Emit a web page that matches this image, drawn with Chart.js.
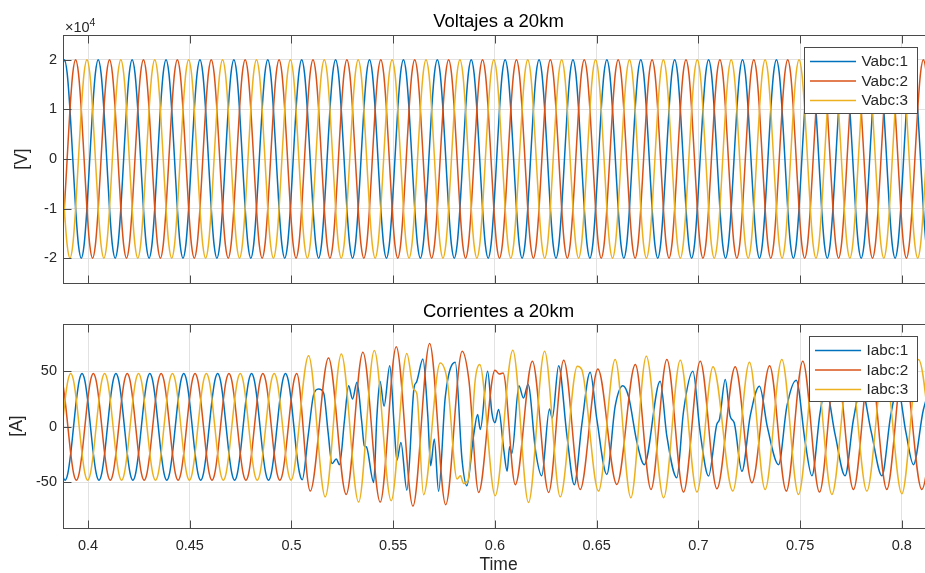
<!DOCTYPE html>
<html>
<head>
<meta charset="utf-8">
<script src="https://cdn.jsdelivr.net/npm/chart.js@4.4.1/dist/chart.umd.min.js"></script>
<style>
  html, body { margin: 0; padding: 0; background: #fff; overflow: hidden; }
  #wrap { position: relative; width: 925px; height: 573px; overflow: hidden; }
  canvas { position: absolute; left: 0; }
  #cv-top { top: 0; }
  #cv-bot { top: 300px; }
</style>
</head>
<body>
<div id="wrap">
  <canvas id="cv-top" width="940" height="300"></canvas>
  <canvas id="cv-bot" width="940" height="273"></canvas>
</div>
<script>
// ---- line colours (matlab default order) ----
const COLORS = ['#0072BD', '#D95319', '#EDB120'];
const FONT = "'Liberation Sans', Arial, Helvetica, sans-serif";
const INK = '#262626';
const GRID = '#e2e2e2';
const TICK_LEN = 8;

// ---- axes ----
const X_MIN = 0.3877, X_MAX = 0.8158;
const X_TICKS = [0.4, 0.45, 0.5, 0.55, 0.6, 0.65, 0.7, 0.75, 0.8];
const V_TICKS = [-20000, -10000, 0, 10000, 20000];
const I_TICKS = [-50, 0, 50];

// ---- voltages [V], one sample every 30 deg of the 60 Hz wave ----
const V_T0 = 0.38696, V_DT = 1 / 720;
const vabc1 = [17321,
  20000, 17321, 10000, 0, -10000, -17321, -20000, -17321, -10000, 0, 10000, 17321,
  20000, 17321, 10000, 0, -10000, -17321, -20000, -17321, -10000, 0, 10000, 17321,
  20000, 17321, 10000, 0, -10000, -17321, -20000, -17321, -10000, 0, 10000, 17321,
  20000, 17321, 10000, 0, -10000, -17321, -20000, -17321, -10000, 0, 10000, 17321,
  20000, 17321, 10000, 0, -10000, -17321, -20000, -17321, -10000, 0, 10000, 17321,
  20000, 17321, 10000, 0, -10000, -17321, -20000, -17321, -10000, 0, 10000, 17321,
  20000, 17321, 10000, 0, -10000, -17321, -20000, -17321, -10000, 0, 10000, 17321,
  20000, 17321, 10000, 0, -10000, -17321, -20000, -17321, -10000, 0, 10000, 17321,
  20000, 17321, 10000, 0, -10000, -17321, -20000, -17321, -10000, 0, 10000, 17321,
  20000, 17321, 10000, 0, -10000, -17321, -20000, -17321, -10000, 0, 10000, 17321,
  20000, 17321, 10000, 0, -10000, -17321, -20000, -17321, -10000, 0, 10000, 17321,
  20000, 17321, 10000, 0, -10000, -17321, -20000, -17321, -10000, 0, 10000, 17321,
  20000, 17321, 10000, 0, -10000, -17321, -20000, -17321, -10000, 0, 10000, 17321,
  20000, 17321, 10000, 0, -10000, -17321, -20000, -17321, -10000, 0, 10000, 17321,
  20000, 17321, 10000, 0, -10000, -17321, -20000, -17321, -10000, 0, 10000, 17321,
  20000, 17321, 10000, 0, -10000, -17321, -20000, -17321, -10000, 0, 10000, 17321,
  20000, 17321, 10000, 0, -10000, -17321, -20000, -17321, -10000, 0, 10000, 17321,
  20000, 17321, 10000, 0, -10000, -17321, -20000, -17321, -10000, 0, 10000, 17321,
  20000, 17321, 10000, 0, -10000, -17321, -20000, -17321, -10000, 0, 10000, 17321,
  20000, 17321, 10000, 0, -10000, -17321, -20000, -17321, -10000, 0, 10000, 17321,
  20000, 17321, 10000, 0, -10000, -17321, -20000, -17321, -10000, 0, 10000, 17321,
  20000, 17321, 10000, 0, -10000, -17321, -20000, -17321, -10000, 0, 10000, 17321,
  20000, 17321, 10000, 0, -10000, -17321, -20000, -17321, -10000, 0, 10000, 17321,
  20000, 17321, 10000, 0, -10000, -17321, -20000, -17321, -10000, 0, 10000, 17321,
  20000, 17321, 10000, 0, -10000, -17321, -20000, -17321, -10000, 0, 10000, 17321,
  20000, 17321, 10000, 0, -10000, -17321, -20000, -17321, -10000];
const vabc2 = [-17321,
  -10000, 0, 10000, 17321, 20000, 17321, 10000, 0, -10000, -17321, -20000, -17321,
  -10000, 0, 10000, 17321, 20000, 17321, 10000, 0, -10000, -17321, -20000, -17321,
  -10000, 0, 10000, 17321, 20000, 17321, 10000, 0, -10000, -17321, -20000, -17321,
  -10000, 0, 10000, 17321, 20000, 17321, 10000, 0, -10000, -17321, -20000, -17321,
  -10000, 0, 10000, 17321, 20000, 17321, 10000, 0, -10000, -17321, -20000, -17321,
  -10000, 0, 10000, 17321, 20000, 17321, 10000, 0, -10000, -17321, -20000, -17321,
  -10000, 0, 10000, 17321, 20000, 17321, 10000, 0, -10000, -17321, -20000, -17321,
  -10000, 0, 10000, 17321, 20000, 17321, 10000, 0, -10000, -17321, -20000, -17321,
  -10000, 0, 10000, 17321, 20000, 17321, 10000, 0, -10000, -17321, -20000, -17321,
  -10000, 0, 10000, 17321, 20000, 17321, 10000, 0, -10000, -17321, -20000, -17321,
  -10000, 0, 10000, 17321, 20000, 17321, 10000, 0, -10000, -17321, -20000, -17321,
  -10000, 0, 10000, 17321, 20000, 17321, 10000, 0, -10000, -17321, -20000, -17321,
  -10000, 0, 10000, 17321, 20000, 17321, 10000, 0, -10000, -17321, -20000, -17321,
  -10000, 0, 10000, 17321, 20000, 17321, 10000, 0, -10000, -17321, -20000, -17321,
  -10000, 0, 10000, 17321, 20000, 17321, 10000, 0, -10000, -17321, -20000, -17321,
  -10000, 0, 10000, 17321, 20000, 17321, 10000, 0, -10000, -17321, -20000, -17321,
  -10000, 0, 10000, 17321, 20000, 17321, 10000, 0, -10000, -17321, -20000, -17321,
  -10000, 0, 10000, 17321, 20000, 17321, 10000, 0, -10000, -17321, -20000, -17321,
  -10000, 0, 10000, 17321, 20000, 17321, 10000, 0, -10000, -17321, -20000, -17321,
  -10000, 0, 10000, 17321, 20000, 17321, 10000, 0, -10000, -17321, -20000, -17321,
  -10000, 0, 10000, 17321, 20000, 17321, 10000, 0, -10000, -17321, -20000, -17321,
  -10000, 0, 10000, 17321, 20000, 17321, 10000, 0, -10000, -17321, -20000, -17321,
  -10000, 0, 10000, 17321, 20000, 17321, 10000, 0, -10000, -17321, -20000, -17321,
  -10000, 0, 10000, 17321, 20000, 17321, 10000, 0, -10000, -17321, -20000, -17321,
  -10000, 0, 10000, 17321, 20000, 17321, 10000, 0, -10000, -17321, -20000, -17321,
  -10000, 0, 10000, 17321, 20000, 17321, 10000, 0, -10000];
const vabc3 = [0,
  -10000, -17321, -20000, -17321, -10000, 0, 10000, 17321, 20000, 17321, 10000, 0,
  -10000, -17321, -20000, -17321, -10000, 0, 10000, 17321, 20000, 17321, 10000, 0,
  -10000, -17321, -20000, -17321, -10000, 0, 10000, 17321, 20000, 17321, 10000, 0,
  -10000, -17321, -20000, -17321, -10000, 0, 10000, 17321, 20000, 17321, 10000, 0,
  -10000, -17321, -20000, -17321, -10000, 0, 10000, 17321, 20000, 17321, 10000, 0,
  -10000, -17321, -20000, -17321, -10000, 0, 10000, 17321, 20000, 17321, 10000, 0,
  -10000, -17321, -20000, -17321, -10000, 0, 10000, 17321, 20000, 17321, 10000, 0,
  -10000, -17321, -20000, -17321, -10000, 0, 10000, 17321, 20000, 17321, 10000, 0,
  -10000, -17321, -20000, -17321, -10000, 0, 10000, 17321, 20000, 17321, 10000, 0,
  -10000, -17321, -20000, -17321, -10000, 0, 10000, 17321, 20000, 17321, 10000, 0,
  -10000, -17321, -20000, -17321, -10000, 0, 10000, 17321, 20000, 17321, 10000, 0,
  -10000, -17321, -20000, -17321, -10000, 0, 10000, 17321, 20000, 17321, 10000, 0,
  -10000, -17321, -20000, -17321, -10000, 0, 10000, 17321, 20000, 17321, 10000, 0,
  -10000, -17321, -20000, -17321, -10000, 0, 10000, 17321, 20000, 17321, 10000, 0,
  -10000, -17321, -20000, -17321, -10000, 0, 10000, 17321, 20000, 17321, 10000, 0,
  -10000, -17321, -20000, -17321, -10000, 0, 10000, 17321, 20000, 17321, 10000, 0,
  -10000, -17321, -20000, -17321, -10000, 0, 10000, 17321, 20000, 17321, 10000, 0,
  -10000, -17321, -20000, -17321, -10000, 0, 10000, 17321, 20000, 17321, 10000, 0,
  -10000, -17321, -20000, -17321, -10000, 0, 10000, 17321, 20000, 17321, 10000, 0,
  -10000, -17321, -20000, -17321, -10000, 0, 10000, 17321, 20000, 17321, 10000, 0,
  -10000, -17321, -20000, -17321, -10000, 0, 10000, 17321, 20000, 17321, 10000, 0,
  -10000, -17321, -20000, -17321, -10000, 0, 10000, 17321, 20000, 17321, 10000, 0,
  -10000, -17321, -20000, -17321, -10000, 0, 10000, 17321, 20000, 17321, 10000, 0,
  -10000, -17321, -20000, -17321, -10000, 0, 10000, 17321, 20000, 17321, 10000, 0,
  -10000, -17321, -20000, -17321, -10000, 0, 10000, 17321, 20000, 17321, 10000, 0,
  -10000, -17321, -20000, -17321, -10000, 0, 10000, 17321, 20000];

// ---- currents [A] before the disturbance, same 30 deg sampling ----
const I_T0 = 0.38594, I_DT = 1 / 720;
const iabc1Pre = [-24, -41.6, -48, -41.6, -24, 0, 24, 41.6,
  48, 41.6, 24, 0, -24, -41.6, -48, -41.6, -24, 0, 24, 41.6,
  48, 41.6, 24, 0, -24, -41.6, -48, -41.6, -24, 0, 24, 41.6,
  48, 41.6, 24, 0, -24, -41.6, -48, -41.6, -24, 0, 24, 41.6,
  48, 41.6, 24, 0, -24, -41.6, -48, -41.6, -24, 0, 24, 41.6,
  48, 41.6, 24, 0, -24, -41.6, -48, -41.6, -24, 0, 24, 41.6,
  48, 41.6, 24, 0, -24, -41.6, -48, -41.6, -24, 0, 24, 41.6,
  48, 41.6, 24];
const iabc2Pre = [48, 41.6, 24, 0, -24, -41.6, -48, -41.6,
  -24, 0, 24, 41.6, 48, 41.6, 24, 0, -24, -41.6, -48, -41.6,
  -24, 0, 24, 41.6, 48, 41.6, 24, 0, -24, -41.6, -48, -41.6,
  -24, 0, 24, 41.6, 48, 41.6, 24, 0, -24, -41.6, -48, -41.6,
  -24, 0, 24, 41.6, 48, 41.6, 24, 0, -24, -41.6, -48, -41.6,
  -24, 0, 24, 41.6, 48, 41.6, 24, 0, -24, -41.6, -48, -41.6,
  -24, 0, 24, 41.6, 48, 41.6, 24, 0, -24, -41.6, -48, -41.6,
  -24, 0, 24];
const iabc3Pre = [-24, 0, 24, 41.6, 48, 41.6, 24, 0,
  -24, -41.6, -48, -41.6, -24, 0, 24, 41.6, 48, 41.6, 24, 0,
  -24, -41.6, -48, -41.6, -24, 0, 24, 41.6, 48, 41.6, 24, 0,
  -24, -41.6, -48, -41.6, -24, 0, 24, 41.6, 48, 41.6, 24, 0,
  -24, -41.6, -48, -41.6, -24, 0, 24, 41.6, 48, 41.6, 24, 0,
  -24, -41.6, -48, -41.6, -24, 0, 24, 41.6, 48, 41.6, 24, 0,
  -24, -41.6, -48, -41.6, -24, 0, 24, 41.6, 48, 41.6, 24, 0,
  -24, -41.6, -48];

// ---- currents [A] after ~0.5 s, [time, value] at turning points ----
const iabc1Post = [
  [0.5012, 0], [0.5026, -25], [0.5040, -42], [0.5053, -47.5], [0.5082, -8], [0.5109, 29],
  [0.5133, 34], [0.5158, 30.5], [0.5180, -5], [0.5199, -33], [0.5220, -29], [0.5236, -34],
  [0.5260, 5], [0.5281, 37], [0.5300, 25], [0.5322, 40], [0.5345, 5], [0.5358, -17],
  [0.5368, -18], [0.5404, -50], [0.5420, 10], [0.5435, 41], [0.5455, 18.6], [0.5483, 55],
  [0.5505, 0], [0.5518, -30], [0.5538, -14], [0.5567, -57], [0.5603, 36], [0.5614, 40],
  [0.5646, 61], [0.5670, 10], [0.5684, -35], [0.5702, -11], [0.5723, -58], [0.5756, 27],
  [0.5805, 58], [0.5838, -29], [0.5862, -53], [0.5895, -8], [0.5915, 11], [0.5928, -2.4],
  [0.5964, 50], [0.5985, 12.5], [0.6000, 3.6], [0.6018, 15.5], [0.6043, -20], [0.6060, -40],
  [0.6072, -18], [0.6083, -24], [0.6118, 37], [0.6140, 26], [0.6163, 38], [0.6200, -22],
  [0.6230, -44], [0.6268, 16], [0.6282, 8], [0.6313, 55], [0.6354, -8], [0.6390, -52],
  [0.6427, 2], [0.6468, 49], [0.6501, 6.6], [0.6550, -42.8], [0.6591, 18.6], [0.6629, 37],
  [0.6657, 27], [0.6698, -14], [0.6734, -34], [0.6812, 41], [0.6845, -8.4], [0.6894, -45.8],
  [0.6927, 14], [0.6973, 50], [0.7009, -5.4], [0.7050, -44.3], [0.7090, 2], [0.7104, 7],
  [0.7132, 42.5], [0.7156, 9.6], [0.7176, 3.6], [0.7214, -40], [0.7255, 10], [0.7300, 36.5],
  [0.7340, -1], [0.7394, -34], [0.7435, 18.6], [0.7481, 42], [0.7525, -14], [0.7558, -44],
  [0.7598, 12.6], [0.7625, 35], [0.7672, -7], [0.7721, -44], [0.7762, 6.6], [0.7800, 35],
  [0.7850, -5], [0.7902, -44], [0.7945, 10], [0.7980, 35], [0.8020, -5], [0.8057, -34],
  [0.8106, 15.6], [0.8150, 35], [0.8180, 10]
];
const iabc2Post = [
  [0.5012, 41.6], [0.5026, 48], [0.5092, -57.8], [0.5182, 62], [0.5269, -60.8], [0.5351, 67],
  [0.5436, -67.7], [0.5515, 72], [0.5597, -71.3], [0.5679, 75], [0.5758, -70], [0.5839, 68],
  [0.5872, 42], [0.5920, -59], [0.6000, 51], [0.6022, 47.5], [0.6040, 48.5], [0.6100, -52],
  [0.6184, 59], [0.6264, -59], [0.6338, 60], [0.6419, -56.3], [0.6506, 52], [0.6599, -51.8],
  [0.6690, 56], [0.6767, -56.3], [0.6845, 60.5], [0.6927, -58.7], [0.7009, 59], [0.7091, -55.7],
  [0.7181, 54], [0.7263, -50.3], [0.7350, 55], [0.7432, -57.8], [0.7513, 59], [0.7595, -58.7],
  [0.7677, 58], [0.7762, -56.3], [0.7844, 58], [0.7926, -56.3], [0.8008, 58], [0.8098, -56.3],
  [0.8180, 55]
];
const iabc3Post = [
  [0.5084, 64], [0.5166, -63], [0.5245, 65.6], [0.5330, -67.7], [0.5407, 68.6], [0.5490, -66.5],
  [0.5567, 66], [0.5600, 34], [0.5616, 30], [0.5649, -61], [0.5731, 57.5], [0.5766, 41],
  [0.5814, -47], [0.5830, -44], [0.5846, -51], [0.5868, -48], [0.5903, 42], [0.5925, 56],
  [0.6001, -62], [0.6088, 69], [0.6165, -68], [0.6244, 68], [0.6321, -63], [0.6405, 54.5],
  [0.6427, 51.5], [0.6509, -57.8], [0.6591, 60.5], [0.6668, -63.8], [0.6744, 63.5], [0.6829, -63.8],
  [0.6911, 60], [0.6993, -58.7], [0.7072, 54], [0.7169, -57.8], [0.7251, 58], [0.7328, -56.3],
  [0.7410, 60.5], [0.7492, -60.8], [0.7574, 58], [0.7656, -60.8], [0.7743, 58], [0.7828, -57.8],
  [0.7913, 58], [0.8000, -60.2], [0.8082, 60.5], [0.8165, -55]
];

function sampled(t0, dt, vals) {
  return vals.map((v, i) => ({ x: t0 + i * dt, y: v }));
}
function pairs(list) {
  return list.map(([x, y]) => ({ x, y }));
}

// matlab-ish decorations: box, inward ticks, title, labels, legend
const matlabDecor = {
  id: 'matlabDecor',
  afterDraw(chart, args, o) {
    const { ctx, chartArea: a, scales: { x, y } } = chart;
    const L = Math.round(a.left) + 0.5, R = Math.round(a.right) + 0.5;
    const T = Math.round(a.top) + 0.5, B = Math.round(a.bottom) + 0.5;
    ctx.save();

    ctx.strokeStyle = '#4a4a4a';
    ctx.lineWidth = 1;
    ctx.strokeRect(L, T, R - L, B - T);

    ctx.beginPath();
    X_TICKS.forEach(v => {
      const px = Math.round(x.getPixelForValue(v)) + 0.5;
      ctx.moveTo(px, B); ctx.lineTo(px, B - TICK_LEN);
      ctx.moveTo(px, T); ctx.lineTo(px, T + TICK_LEN);
    });
    o.yTicks.forEach(v => {
      const py = Math.round(y.getPixelForValue(v)) + 0.5;
      ctx.moveTo(L, py); ctx.lineTo(L + TICK_LEN, py);
      ctx.moveTo(R, py); ctx.lineTo(R - TICK_LEN, py);
    });
    ctx.stroke();

    // title
    ctx.fillStyle = '#000';
    ctx.textAlign = 'center';
    ctx.textBaseline = 'alphabetic';
    ctx.font = `18.5px ${FONT}`;
    ctx.fillText(o.title, (a.left + a.right) / 2, o.titleY);

    // y label
    ctx.save();
    ctx.translate(o.yLabelX, (a.top + a.bottom) / 2);
    ctx.rotate(-Math.PI / 2);
    ctx.fillStyle = INK;
    ctx.font = `17.5px ${FONT}`;
    ctx.textBaseline = 'middle';
    ctx.fillText(o.yLabel, 0, 0);
    ctx.restore();

    // x label
    if (o.xLabel) {
      ctx.fillStyle = INK;
      ctx.font = `17.5px ${FONT}`;
      ctx.fillText(o.xLabel, (a.left + a.right) / 2, o.xLabelY);
    }

    // exponent above the y axis
    if (o.exponent) {
      ctx.fillStyle = INK;
      ctx.textAlign = 'left';
      ctx.font = `14.5px ${FONT}`;
      ctx.fillText('\u00d710', a.left + 2, a.top - 3);
      const w = ctx.measureText('\u00d710').width;
      ctx.font = `10.5px ${FONT}`;
      ctx.fillText(o.exponent, a.left + 2 + w, a.top - 9);
    }

    // legend
    const lg = o.legend;
    ctx.fillStyle = '#fff';
    ctx.fillRect(lg.x, lg.y, lg.w, lg.h);
    ctx.strokeStyle = '#4a4a4a';
    ctx.strokeRect(lg.x + 0.5, lg.y + 0.5, lg.w, lg.h);
    ctx.font = `15.3px ${FONT}`;
    ctx.textAlign = 'left';
    ctx.textBaseline = 'middle';
    chart.data.datasets.forEach((ds, k) => {
      const ry = lg.y + 14.5 + k * 19.5;
      ctx.strokeStyle = ds.borderColor;
      ctx.lineWidth = 1.4;
      ctx.beginPath();
      ctx.moveTo(lg.x + 6, ry); ctx.lineTo(lg.x + 52, ry);
      ctx.stroke();
      ctx.fillStyle = INK;
      ctx.fillText(ds.label, lg.x + 57.5, ry + 0.5);
    });
    ctx.restore();
  }
};

function makeChart(id, cfg) {
  const tickFont = { family: FONT, size: 14.5 };
  return new Chart(document.getElementById(id), {
    type: 'line',
    data: {
      datasets: cfg.series.map((pts, k) => ({
        label: cfg.names[k],
        data: pts,
        borderColor: COLORS[k],
        borderWidth: 1.5,
        pointRadius: 0,
        fill: false,
        cubicInterpolationMode: 'monotone',
        order: 3 - k
      }))
    },
    options: {
      responsive: false,
      animation: false,
      parsing: false,
      normalized: true,
      events: [],
      layout: { padding: cfg.padding },
      plugins: {
        legend: { display: false },
        tooltip: { enabled: false },
        matlabDecor: cfg.decor
      },
      scales: {
        x: {
          type: 'linear',
          min: X_MIN,
          max: X_MAX,
          afterBuildTicks: s => { s.ticks = X_TICKS.map(v => ({ value: v })); },
          afterFit: s => { s.height = cfg.xAxisHeight; },
          grid: { color: GRID, drawTicks: false },
          border: { display: false },
          ticks: {
            display: cfg.xLabels,
            padding: 9.5,
            color: INK,
            font: tickFont,
            maxRotation: 0,
            autoSkip: false,
            callback: v => String(+v.toFixed(2))
          }
        },
        y: {
          min: cfg.yMin,
          max: cfg.yMax,
          afterBuildTicks: s => { s.ticks = cfg.yTicks.map(v => ({ value: v })); },
          afterFit: s => { s.width = 63; },
          grid: { color: GRID, drawTicks: false },
          border: { display: false },
          ticks: {
            padding: 6,
            color: INK,
            font: tickFont,
            callback: cfg.yFormat
          }
        }
      }
    },
    plugins: [matlabDecor]
  });
}

makeChart('cv-top', {
  names: ['Vabc:1', 'Vabc:2', 'Vabc:3'],
  series: [sampled(V_T0, V_DT, vabc1), sampled(V_T0, V_DT, vabc2), sampled(V_T0, V_DT, vabc3)],
  padding: { top: 35, bottom: 17, left: 0, right: 6 },
  xAxisHeight: 0,
  xLabels: false,
  yMin: -25000, yMax: 25000,
  yTicks: V_TICKS,
  yFormat: v => String(v / 10000),
  decor: {
    yTicks: V_TICKS,
    title: 'Voltajes a 20km', titleY: 27,
    yLabel: '[V]', yLabelX: 22.5,
    exponent: '4',
    legend: { x: 804, y: 47, w: 113, h: 66 }
  }
});

makeChart('cv-bot', {
  names: ['Iabc:1', 'Iabc:2', 'Iabc:3'],
  series: [
    sampled(I_T0, I_DT, iabc1Pre).concat(pairs(iabc1Post)),
    sampled(I_T0, I_DT, iabc2Pre).concat(pairs(iabc2Post)),
    sampled(I_T0, I_DT, iabc3Pre).concat(pairs(iabc3Post))
  ],
  padding: { top: 24, bottom: 0, left: 0, right: 6 },
  xAxisHeight: 45,
  xLabels: true,
  yMin: -91, yMax: 92.5,
  yTicks: I_TICKS,
  yFormat: v => String(v),
  decor: {
    yTicks: I_TICKS,
    title: 'Corrientes a 20km', titleY: 16.5,
    yLabel: '[A]', yLabelX: 17,
    xLabel: 'Time', xLabelY: 269.5,
    legend: { x: 809, y: 36, w: 108, h: 65 }
  }
});
</script>
</body>
</html>
